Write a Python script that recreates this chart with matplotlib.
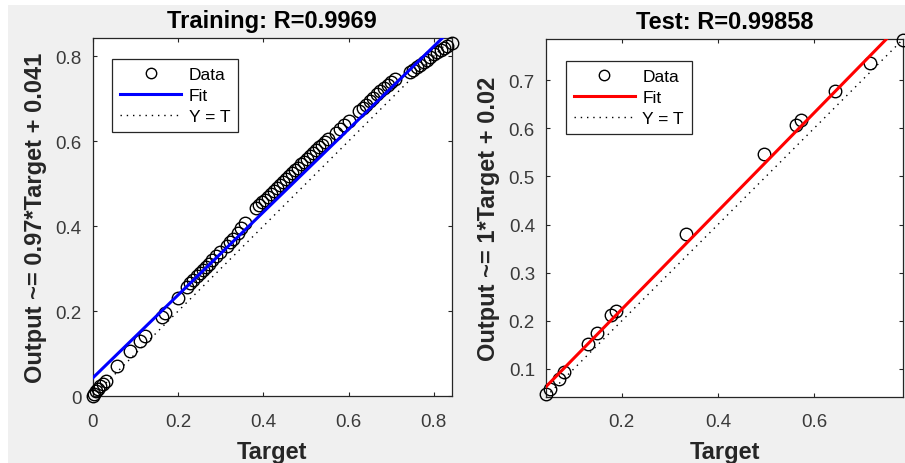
import matplotlib

matplotlib.use("Agg")
import matplotlib.pyplot as plt
import numpy as np
from matplotlib.patches import Rectangle
from matplotlib.ticker import FuncFormatter

plt.rcParams["font.family"] = ["Liberation Sans", "DejaVu Sans"]

# training set: target vs network output
train_target = [
    0.000, 0.004, 0.008, 0.013, 0.018, 0.024, 0.031, 0.058, 0.088, 0.111, 0.123,
    0.162, 0.170, 0.201,
    0.221, 0.229, 0.236, 0.244, 0.251, 0.258, 0.265, 0.272, 0.280, 0.289, 0.299,
    0.315, 0.323, 0.330, 0.340, 0.348, 0.358,
    0.383, 0.390, 0.397, 0.404, 0.411, 0.418, 0.425, 0.432, 0.440, 0.447, 0.454,
    0.461, 0.468, 0.474, 0.481, 0.488, 0.495, 0.502, 0.509, 0.516, 0.523, 0.530,
    0.537, 0.544, 0.552,
    0.570, 0.580, 0.590, 0.600,
    0.625, 0.633, 0.641, 0.650, 0.658, 0.667, 0.675, 0.683, 0.692, 0.700, 0.710,
    0.745, 0.752, 0.760, 0.768, 0.776, 0.784, 0.792, 0.800, 0.808, 0.816, 0.824,
    0.831, 0.842,
]
train_output = [
    0.000, 0.006, 0.012, 0.018, 0.024, 0.030, 0.037, 0.072, 0.106, 0.131, 0.142,
    0.186, 0.197, 0.231,
    0.258, 0.266, 0.274, 0.283, 0.290, 0.297, 0.305, 0.312, 0.320, 0.330, 0.339,
    0.354, 0.362, 0.370, 0.385, 0.396, 0.407,
    0.442, 0.449, 0.456, 0.462, 0.469, 0.475, 0.482, 0.489, 0.497, 0.504, 0.511,
    0.518, 0.525, 0.532, 0.538, 0.546, 0.552, 0.559, 0.566, 0.572, 0.579, 0.586,
    0.592, 0.599, 0.605,
    0.619, 0.629, 0.638, 0.647,
    0.670, 0.678, 0.686, 0.694, 0.702, 0.710, 0.718, 0.725, 0.732, 0.739, 0.746,
    0.762, 0.768, 0.774, 0.780, 0.786, 0.792, 0.798, 0.804, 0.810, 0.815, 0.820,
    0.825, 0.830,
]

# test set
test_target = [
    0.042, 0.050, 0.069, 0.080, 0.130, 0.149, 0.177, 0.187,
    0.333, 0.496, 0.562, 0.574, 0.644, 0.717, 0.786,
]
test_output = [
    0.047, 0.059, 0.079, 0.094, 0.152, 0.174, 0.211, 0.220,
    0.381, 0.546, 0.607, 0.618, 0.678, 0.736, 0.783,
]

train_fit = (0.975, 0.043)
test_fit = (1.02, 0.020)
train_lim = (0.0, 0.842)
test_lim = (0.042, 0.786)

panels = [
    dict(t=train_target, y=train_output, fit=train_fit, lim=train_lim, color="#0000ff",
         title="Training: R=0.9969", ylabel="Output ~= 0.97*Target + 0.041",
         ticks=[0, 0.2, 0.4, 0.6, 0.8], yticks=[0, 0.2, 0.4, 0.6, 0.8],
         rect=[0.1024, 0.1437, 0.3967, 0.7716], leg=(0.055, 0.942)),
    dict(t=test_target, y=test_output, fit=test_fit, lim=test_lim, color="#ff0000",
         title="Test: R=0.99858", ylabel="Output ~= 1*Target + 0.02",
         ticks=[0.2, 0.4, 0.6], yticks=[0.1, 0.2, 0.3, 0.4, 0.5, 0.6, 0.7],
         rect=[0.6033, 0.1429, 0.3948, 0.7709], leg=(0.056, 0.939)),
]

fig = plt.figure(figsize=(9.05, 4.64), dpi=100, facecolor="white")
fig.patches.append(Rectangle((8 / 905, 0), 1, 1 - 6 / 464, transform=fig.transFigure,
                             facecolor="#f0f0f0", edgecolor="none", zorder=-10))

fmt = FuncFormatter(lambda v, _: f"{v:g}")
for p in panels:
    ax = fig.add_axes(p["rect"])
    lo, hi = p["lim"]
    xs = np.array([lo, hi])
    h_data, = ax.plot(p["t"], p["y"], "o", mfc="none", mec="black", ms=9, mew=1.0,
                      label="Data", zorder=3, clip_on=False)
    h_fit, = ax.plot(xs, p["fit"][0] * xs + p["fit"][1], color=p["color"], lw=2.2,
                     label="Fit", zorder=4)
    h_id, = ax.plot(xs, xs, color="black", lw=1.0, ls=(0, (1, 3.5)), label="Y = T", zorder=2)
    ax.set_xlim(lo, hi)
    ax.set_ylim(lo, hi)
    ax.set_xticks(p["ticks"])
    ax.set_yticks(p["yticks"])
    ax.xaxis.set_major_formatter(fmt)
    ax.yaxis.set_major_formatter(fmt)
    ax.tick_params(direction="in", length=3, width=0.8, top=True, right=True,
                   labelsize=13.5, labelcolor="#3a3a3a", color="#262626")
    ax.tick_params(axis="y", pad=8)
    ax.tick_params(axis="x", pad=12)
    for s in ax.spines.values():
        s.set_color("#262626")
        s.set_linewidth(0.9)
    ax.set_title(p["title"], fontsize=17, fontweight="bold", pad=8)
    ax.set_xlabel("Target", fontsize=17, fontweight="bold", labelpad=7, color="#262626")
    ax.set_ylabel(p["ylabel"], fontsize=17, fontweight="bold", labelpad=6, color="#262626")
    leg = ax.legend(handles=[h_data, h_fit, h_id], loc="upper left",
                    bbox_to_anchor=p["leg"], fontsize=12.5, numpoints=1,
                    handlelength=3.5, handletextpad=0.45, labelspacing=0.35,
                    borderpad=0.45, borderaxespad=0, fancybox=False, framealpha=1)
    leg.get_frame().set_edgecolor("#262626")
    leg.get_frame().set_linewidth(0.9)
    leg.legend_handles[0].set_markersize(7.5)

fig.savefig("out.png", dpi=100, facecolor=fig.get_facecolor())
